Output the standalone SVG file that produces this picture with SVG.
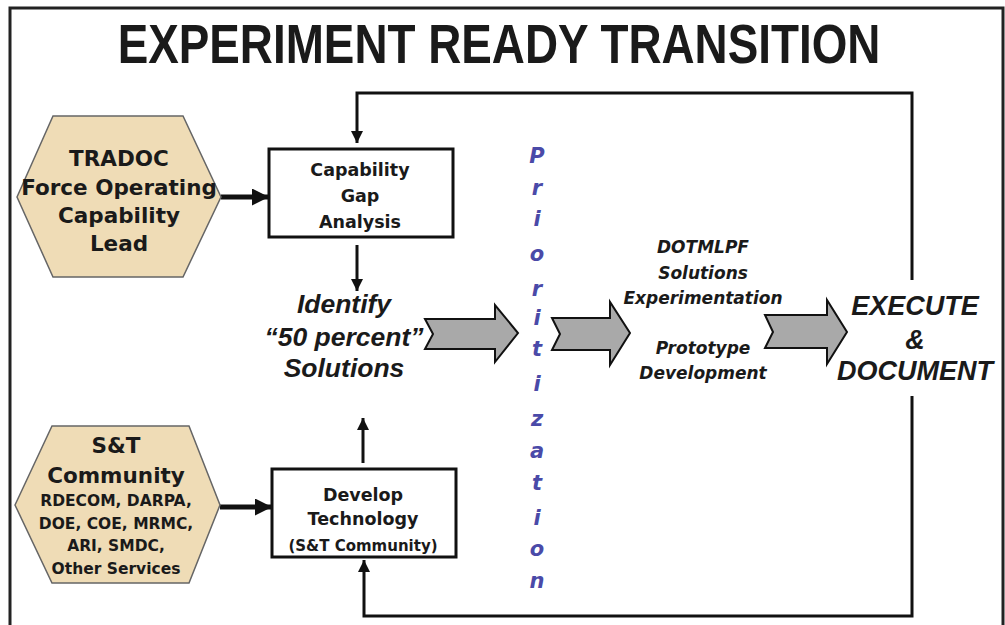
<svg xmlns="http://www.w3.org/2000/svg" width="1005" height="625" viewBox="0 0 1005 625">
<defs>
<style>
.t{font-family:"DejaVu Sans","Liberation Sans",sans-serif;font-weight:bold;fill:#1a1a1a;text-anchor:middle}
.l{font-family:"Liberation Sans",Arial,sans-serif}
.it{font-style:italic}
.hex{fill:#efdcb6;stroke:#666;stroke-width:1.5}
.box{fill:#fff;stroke:#111;stroke-width:3}
.ln{fill:none;stroke:#111;stroke-width:3}
.thick{fill:none;stroke:#111;stroke-width:5}
.chev{fill:#a9a9a9;stroke:#111;stroke-width:2;stroke-linejoin:miter}
.pr{font-family:"DejaVu Sans",sans-serif;font-weight:bold;font-style:italic;fill:#4a4aa8;font-size:21px;text-anchor:middle}
</style>
<marker id="ah" viewBox="0 0 10 10" refX="10" refY="5" markerWidth="4" markerHeight="4" markerUnits="strokeWidth" orient="auto"><path d="M0,0 L10,5 L0,10 Z" fill="#111"/></marker>
<marker id="ahb" viewBox="0 0 10 10" refX="10" refY="5" markerWidth="3.4" markerHeight="3.4" markerUnits="strokeWidth" orient="auto"><path d="M0,0 L10,5 L0,10 Z" fill="#111"/></marker>
</defs>
<rect width="1005" height="625" fill="#fff"/>
<path d="M10,625 V8 H1003 V625" fill="none" stroke="#222" stroke-width="3"/>
<text class="t l" x="0" y="0" font-size="55" transform="translate(499,63) scale(0.833,1)">EXPERIMENT READY TRANSITION</text>

<g id="connectors">
<path class="ln" d="M912,280 V93 H357 V143" marker-end="url(#ah)"/>
<path class="ln" d="M912,396 V616 H364 V560" marker-end="url(#ah)"/>
<path class="thick" d="M221,197 H269" marker-end="url(#ahb)"/>
<path class="thick" d="M220,507 H272" marker-end="url(#ahb)"/>
<path class="ln" d="M357,245 V291" marker-end="url(#ah)"/>
<path class="ln" d="M363,463 V418" marker-end="url(#ah)"/>
<polygon class="chev" points="425,319 495,319 495,305 518,333 495,362 495,349 425,349 433,334"/>
<polygon class="chev" points="552,318 610,318 610,302 630,333 610,365 610,350 552,350 560,334"/>
<polygon class="chev" points="765,315 827,315 827,300 847,332 827,364 827,348 765,348 773,332"/>
</g>

<g id="tradoc">
<polygon class="hex" points="17,197 53,116 183,116 221,197 183,277 53,277"/>
<text class="t" font-size="21.5"><tspan x="119" y="166">TRADOC</tspan><tspan x="119" y="195">Force Operating</tspan><tspan x="119" y="223">Capability</tspan><tspan x="119" y="251">Lead</tspan></text>
</g>

<g id="capgap">
<rect class="box" x="269" y="149" width="184" height="88"/>
<text class="t" font-size="17.5"><tspan x="360" y="176">Capability</tspan><tspan x="360" y="202">Gap</tspan><tspan x="360" y="228">Analysis</tspan></text>
</g>

<g id="identify">
<text class="t l it" font-size="26.5"><tspan x="344" y="313">Identify</tspan><tspan x="344" y="346">“50 percent”</tspan><tspan x="344" y="377">Solutions</tspan></text>
</g>

<g id="st">
<polygon class="hex" points="15,505 52,426 189,426 220,505 189,583 52,583"/>
<text class="t" font-size="21.5"><tspan x="116" y="453">S&amp;T</tspan><tspan x="116" y="483">Community</tspan></text>
<text class="t" font-size="15.5"><tspan x="116" y="506">RDECOM, DARPA,</tspan><tspan x="116" y="529">DOE, COE, MRMC,</tspan><tspan x="116" y="551">ARI, SMDC,</tspan><tspan x="116" y="574">Other Services</tspan></text>
</g>

<g id="develop">
<rect class="box" x="272" y="469" width="184" height="88"/>
<text class="t" font-size="17.5"><tspan x="363" y="501">Develop</tspan><tspan x="363" y="525">Technology</tspan></text>
<text class="t" font-size="15" x="363" y="551">(S&amp;T Community)</text>
</g>

<g id="prioritization">
<text class="pr"><tspan x="537" y="163">P</tspan><tspan x="537" y="195">r</tspan><tspan x="537" y="226">i</tspan><tspan x="537" y="261">o</tspan><tspan x="537" y="296">r</tspan><tspan x="537" y="325">i</tspan><tspan x="537" y="356">t</tspan><tspan x="537" y="391">i</tspan><tspan x="537" y="426">z</tspan><tspan x="537" y="458">a</tspan><tspan x="537" y="490">t</tspan><tspan x="537" y="525">i</tspan><tspan x="537" y="556">o</tspan><tspan x="537" y="588">n</tspan></text>
</g>

<g id="dotmlpf">
<text class="t it" font-size="17"><tspan x="703" y="253">DOTMLPF</tspan><tspan x="703" y="279">Solutions</tspan><tspan x="703" y="304">Experimentation</tspan><tspan x="703" y="354">Prototype</tspan><tspan x="703" y="379">Development</tspan></text>
</g>

<g id="execute">
<text class="t l it" font-size="27"><tspan x="915" y="315">EXECUTE</tspan><tspan x="915" y="349">&amp;</tspan><tspan x="915" y="380">DOCUMENT</tspan></text>
</g>
</svg>
